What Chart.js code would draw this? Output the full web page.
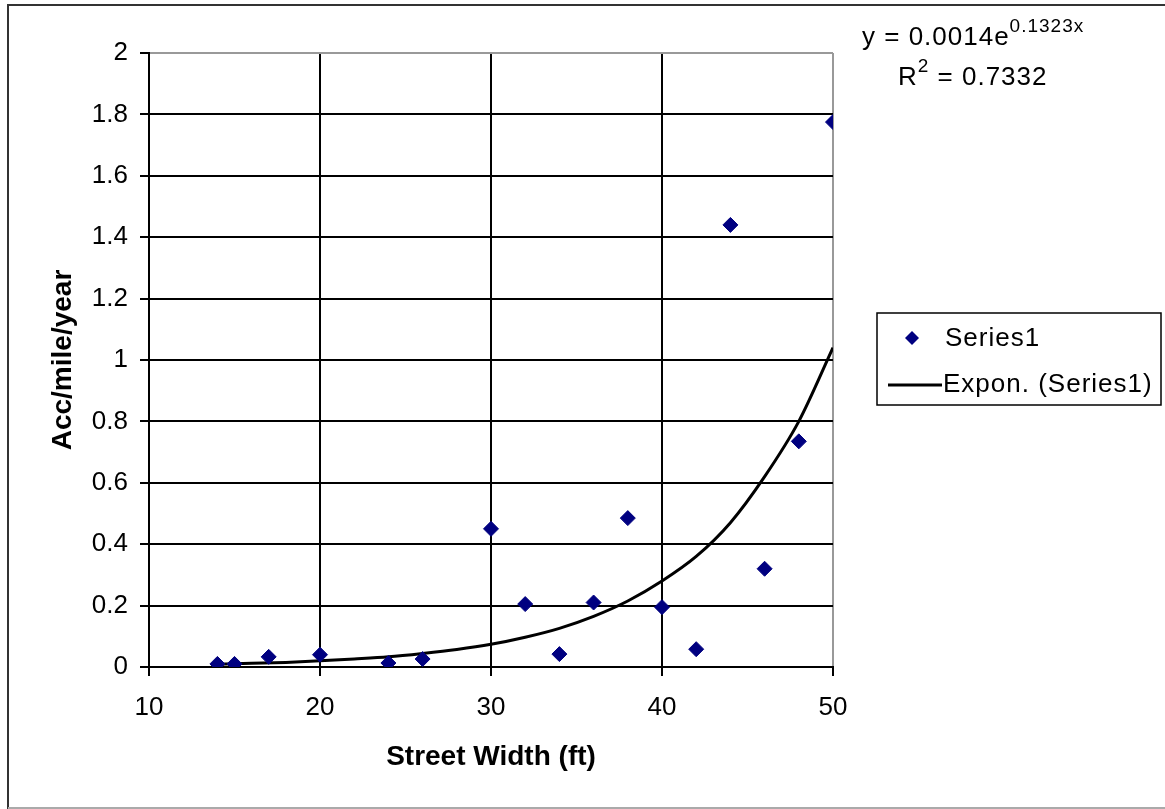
<!DOCTYPE html>
<html>
<head>
<meta charset="utf-8">
<script src="https://cdn.jsdelivr.net/npm/chart.js@4/dist/chart.umd.min.js"></script>
<style>
  html, body { margin: 0; padding: 0; background: #ffffff; }
  canvas { display: block; }
</style>
</head>
<body>
<canvas id="chart" width="1165" height="809"></canvas>
<script>
// street width (ft) vs accidents per mile per year
const widths = [14, 15, 17, 20, 24, 26, 30, 32, 34, 36, 38, 40, 42, 44, 46, 48, 50];
const accRates = [0.01, 0.01, 0.033, 0.04, 0.013, 0.026, 0.45, 0.205, 0.042, 0.21, 0.485, 0.195, 0.058, 1.44, 0.32, 0.735, 1.775];

// exponential trendline
const trendX = [14, 16, 18, 20, 22, 24, 26, 28, 30, 32, 34, 36, 38, 40, 42, 44, 46, 48, 50];
const trendY = [0.009, 0.012, 0.015, 0.02, 0.026, 0.033, 0.044, 0.057, 0.074, 0.097, 0.126, 0.165, 0.215, 0.28, 0.36, 0.47, 0.62, 0.8, 1.04];

const xTicks = [10, 20, 30, 40, 50];
const yTicks = [0, 0.2, 0.4, 0.6, 0.8, 1, 1.2, 1.4, 1.6, 1.8, 2];

const equationMain = "y = 0.0014e";
const equationExp = "0.1323x";
const rSquared = "0.7332";
const legendLabels = ["Series1", "Expon. (Series1)"];

const FONT = "'Liberation Sans', Arial, sans-serif";
const NAVY = "#000080";

const decorPlugin = {
  id: "decor",
  afterDraw(chart) {
    const ctx = chart.ctx;
    ctx.save();

    // outer frame
    ctx.strokeStyle = "#333";
    ctx.lineWidth = 2;
    ctx.beginPath();
    ctx.moveTo(8, 809);
    ctx.lineTo(8, 5);
    ctx.lineTo(1165, 5);
    ctx.stroke();
    ctx.strokeStyle = "#aaa";
    ctx.beginPath();
    ctx.moveTo(8, 808);
    ctx.lineTo(1165, 808);
    ctx.stroke();

    // trendline equation
    ctx.fillStyle = "#000";
    ctx.textBaseline = "alphabetic";
    ctx.textAlign = "left";
    ctx.letterSpacing = "1px";
    ctx.font = `26px ${FONT}`;
    ctx.fillText(equationMain, 862, 45);
    const w1 = ctx.measureText(equationMain).width;
    ctx.font = `19px ${FONT}`;
    ctx.fillText(equationExp, 862 + w1, 32);

    ctx.font = `26px ${FONT}`;
    ctx.fillText("R", 898, 85);
    const wr = ctx.measureText("R").width;
    ctx.font = `19px ${FONT}`;
    ctx.fillText("2", 898 + wr, 72);
    const w2 = ctx.measureText("2").width;
    ctx.font = `26px ${FONT}`;
    ctx.fillText(" = " + rSquared, 898 + wr + w2, 85);

    // legend box
    ctx.strokeStyle = "#000";
    ctx.lineWidth = 1.5;
    ctx.strokeRect(877, 313, 284, 92);

    ctx.fillStyle = NAVY;
    ctx.beginPath();
    ctx.moveTo(912, 331);
    ctx.lineTo(919, 338);
    ctx.lineTo(912, 345);
    ctx.lineTo(905, 338);
    ctx.closePath();
    ctx.fill();

    ctx.strokeStyle = "#000";
    ctx.lineWidth = 3;
    ctx.beginPath();
    ctx.moveTo(888, 385);
    ctx.lineTo(942, 385);
    ctx.stroke();

    ctx.fillStyle = "#000";
    ctx.font = `26px ${FONT}`;
    ctx.textBaseline = "middle";
    ctx.fillText(legendLabels[0], 945, 339);
    ctx.fillText(legendLabels[1], 943, 385);

    ctx.restore();
  }
};

new Chart(document.getElementById("chart"), {
  type: "scatter",
  data: {
    datasets: [
      {
        label: legendLabels[0],
        data: widths.map((x, i) => ({ x, y: accRates[i] })),
        pointStyle: "rectRot",
        pointRadius: 7.5,
        pointHoverRadius: 7.5,
        backgroundColor: NAVY,
        borderColor: NAVY,
        borderWidth: 1,
        order: 0,
      },
      {
        label: legendLabels[1],
        data: trendX.map((x, i) => ({ x, y: trendY[i] })),
        showLine: true,
        pointRadius: 0,
        borderColor: "#000",
        borderWidth: 3,
        cubicInterpolationMode: "monotone",
        order: 1,
      },
    ],
  },
  options: {
    responsive: false,
    animation: false,
    layout: {
      padding: { left: 8, top: 53, right: 332, bottom: 0 },
    },
    plugins: {
      legend: { display: false },
      tooltip: { enabled: false },
    },
    scales: {
      x: {
        type: "linear",
        min: 10,
        max: 50,
        afterBuildTicks: axis => { axis.ticks = xTicks.map(value => ({ value })); },
        afterFit: axis => { axis.height = 142; },
        border: { color: "#000", width: 2 },
        grid: {
          color: c => (c.tick && c.tick.value === 50 ? "#999" : "#000"),
          lineWidth: 2,
          tickLength: 9,
          tickColor: "#000",
        },
        ticks: {
          color: "#000",
          font: { family: FONT, size: 26 },
          padding: 16,
          callback: value => String(value),
        },
        title: {
          display: true,
          text: "Street Width (ft)",
          color: "#000",
          font: { family: FONT, size: 28, weight: "bold" },
          padding: { top: 0, bottom: 35 },
        },
      },
      y: {
        min: 0,
        max: 2,
        afterBuildTicks: axis => { axis.ticks = yTicks.map(value => ({ value })); },
        afterFit: axis => { axis.width = 141; },
        border: { color: "#000", width: 2 },
        grid: {
          color: c => (c.tick && c.tick.value === 2 ? "#999" : "#000"),
          lineWidth: 2,
          tickLength: 9,
          tickColor: "#000",
        },
        ticks: {
          color: "#000",
          font: { family: FONT, size: 26 },
          padding: 12,
          callback: value => String(Math.round(value * 10) / 10),
        },
        title: {
          display: true,
          text: "Acc/mile/year",
          color: "#000",
          font: { family: FONT, size: 28, weight: "bold" },
          padding: { top: 38, bottom: 0 },
        },
      },
    },
  },
  plugins: [decorPlugin],
});
</script>
</body>
</html>
